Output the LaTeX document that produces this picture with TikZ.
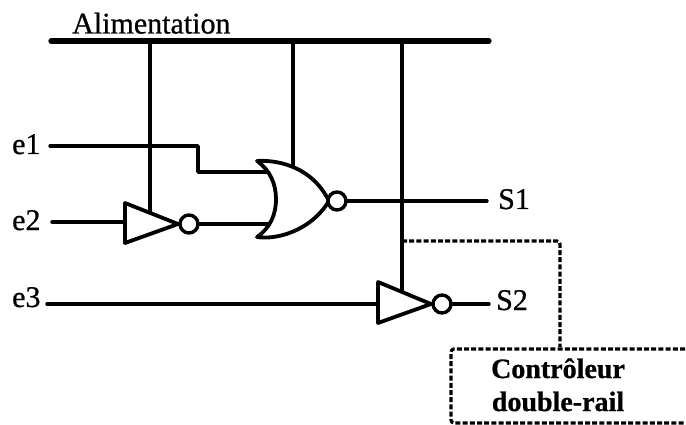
\documentclass[tikz,border=0pt]{standalone}
\usepackage{fontspec}
\setmainfont[FakeBold=0.8]{Liberation Serif}
\tikzset{
  wire/.style={draw=black,line width=3.4pt,line cap=round,line join=round},
  rail/.style={draw=black,line width=5.2pt,line cap=round},
  gate/.style={draw=black,line width=3.8pt,line join=round,fill=white},
  bubble/.style={circle,draw=black,line width=3.4pt,fill=white,inner sep=0pt,minimum size=18pt},
  dash box/.style={draw=black,line width=3.2pt,dash pattern=on 5pt off 2.2pt,rounded corners=3pt},
  lab/.style={inner sep=0pt,font=\fontsize{30}{30}\selectfont},
  ctl/.style={inner sep=0pt,align=center,font=\fontsize{28}{33}\selectfont\bfseries}
}
\begin{document}
\begin{tikzpicture}[x=1pt,y=-1pt]
\useasboundingbox (0,0) rectangle (686,425);
% named points
\coordinate (railL) at (51,41); \coordinate (railR) at (489,41);
\coordinate (r1) at (150,41); \coordinate (r2) at (293,41); \coordinate (r3) at (402,41);
\coordinate (e1w) at (50,146); \coordinate (b1) at (198,146); \coordinate (b2) at (198,172); \coordinate (n1) at (268,172);
\coordinate (e2w) at (52,222); \coordinate (i1) at (125,222); \coordinate (n2) at (268,224);
\coordinate (e3w) at (47,304); \coordinate (i2) at (378,304);
\coordinate (s1w) at (487,201); \coordinate (s2w) at (489,304);
\coordinate (p1) at (150,212); \coordinate (p2) at (293,168); \coordinate (p3) at (402,292);
\coordinate (d0) at (402,241); \coordinate (d1) at (560,241); \coordinate (d2) at (560,347);
% wires
\draw[rail] (railL) -- (railR);
\draw[wire] (r1) -- (p1);
\draw[wire] (r2) -- (p2);
\draw[wire] (r3) -- (p3);
\draw[wire] (e1w) -- (b1) -- (b2) -- (n1);
\draw[wire] (e2w) -- (i1);
\draw[wire] (e3w) -- (i2);
% gates
\draw[gate] (125,203) -- (178,224) -- (125,243) -- cycle;
\draw[gate] (378,282) -- (431,304) -- (378,323) -- cycle;
\draw[wire] (189,224) -- (n2);
\draw[gate] (257,161) .. controls (272,160) and (310,163) .. (329,201)
  .. controls (310,232) and (275,240) .. (257,237)
  .. controls (270,228) and (276,215) .. (276,199)
  .. controls (276,184) and (270,170) .. (257,161) -- cycle;
\draw[wire] (337,201) -- (s1w);
\draw[wire] (442,304) -- (s2w);
\node[bubble] (inv1) at (189,224) {};
\node[bubble] (nor1) at (337,201) {};
\node[bubble] (inv2) at (442,304) {};
% dashed
\draw[dash box] (d0) -- (d1) -- (d2);
\draw[dash box] (685,349) -- (451,349) -- (451,423) -- (685,423);
% labels
\node[lab,anchor=base west] (alim) at (72,33.5) {Alimentation};
\node[lab,anchor=base west] (e1) at (12,154) {e1};
\node[lab,anchor=base west] (e2) at (12,230) {e2};
\node[lab,anchor=base west] (e3) at (12,307) {e3};
\node[lab,anchor=base west] (s1) at (498,209) {S1};
\node[lab,anchor=base west] (s2) at (496,310) {S2};
\node[ctl,anchor=base] (ctl) at (558,411) {Contrôleur\\double-rail};
\end{tikzpicture}
\end{document}
